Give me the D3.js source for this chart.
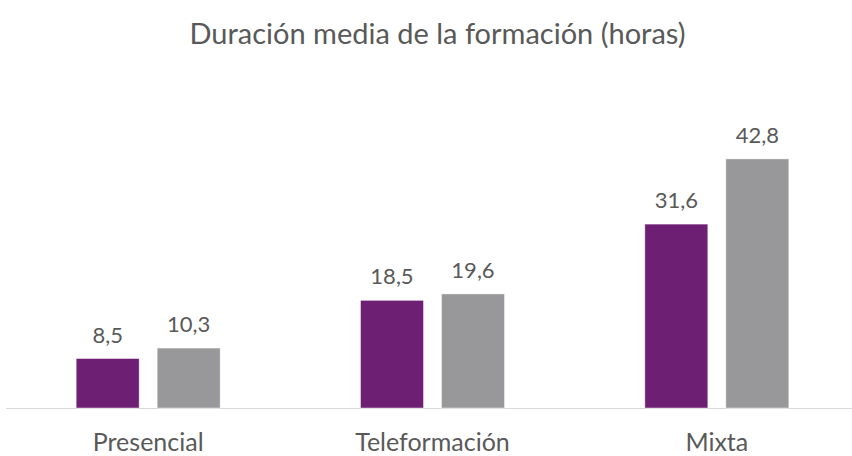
<!DOCTYPE html>
<html><head><meta charset="utf-8">
<script src="https://cdn.jsdelivr.net/npm/d3@7"></script>
<style>body{margin:0;background:#fff}svg{display:block}</style>
</head><body><svg id="c" width="852" height="456"></svg>
<script>
const categories = ["Presencial", "Teleformación", "Mixta"];
const series = ["s1", "s2"];
const values1 = [8.5, 18.5, 31.6];
const values2 = [10.3, 19.6, 42.8];
const title = "Duración media de la formación (horas)";
const colors = ["#6d1f74", "#98989a"];

const svg = d3.select("#c");
const font = "Lato, 'Open Sans', sans-serif";
const x0 = d3.scaleBand().domain(categories).range([6, 859]);
const x1 = d3.scaleBand().domain(series).range([0, 144]).paddingInner(18/81);
const y = d3.scaleLinear().domain([0, 50]).range([408, 117]);
const data = categories.map((c,i)=>({c, v:[values1[i], values2[i]]}));
const fmt = v => d3.format(".1f")(v).replace(".", ",");

svg.append("text").attr("x", 437.5).attr("y", 44).attr("text-anchor","middle")
  .attr("font-family", font).attr("font-size", 29).attr("fill", "#595959").text(title);

svg.append("line").attr("x1", 6).attr("x2", 852).attr("y1", 408.5).attr("y2", 408.5)
  .attr("stroke", "#d9d9d9").attr("stroke-width", 1);

const g = svg.selectAll("g.cat").data(data).join("g")
  .attr("transform", d => `translate(${x0(d.c) + (x0.bandwidth()-144)/2},0)`);
g.selectAll("rect").data(d => d.v.map((v,j)=>({v, s:series[j], j}))).join("rect")
  .attr("x", d => x1(d.s)).attr("width", x1.bandwidth())
  .attr("y", d => y(d.v)).attr("height", d => y(0) - y(d.v))
  .attr("fill", d => colors[d.j]).attr("stroke", "#fff").attr("stroke-opacity", 0.6).attr("stroke-width", 0.75);
g.selectAll("text").data(d => d.v.map((v,j)=>({v, s:series[j]}))).join("text")
  .attr("x", d => x1(d.s) + x1.bandwidth()/2).attr("y", d => y(d.v) - 16)
  .attr("text-anchor","middle").attr("font-family", font).attr("font-size", 22)
  .attr("fill", "#595959").text(d => fmt(d.v));

svg.append("g").selectAll("text").data(categories).join("text")
  .attr("x", d => x0(d) + x0.bandwidth()/2).attr("y", 451).attr("text-anchor","middle")
  .attr("font-family", font).attr("font-size", 25).attr("fill", "#595959").text(d => d);
</script></body></html>
